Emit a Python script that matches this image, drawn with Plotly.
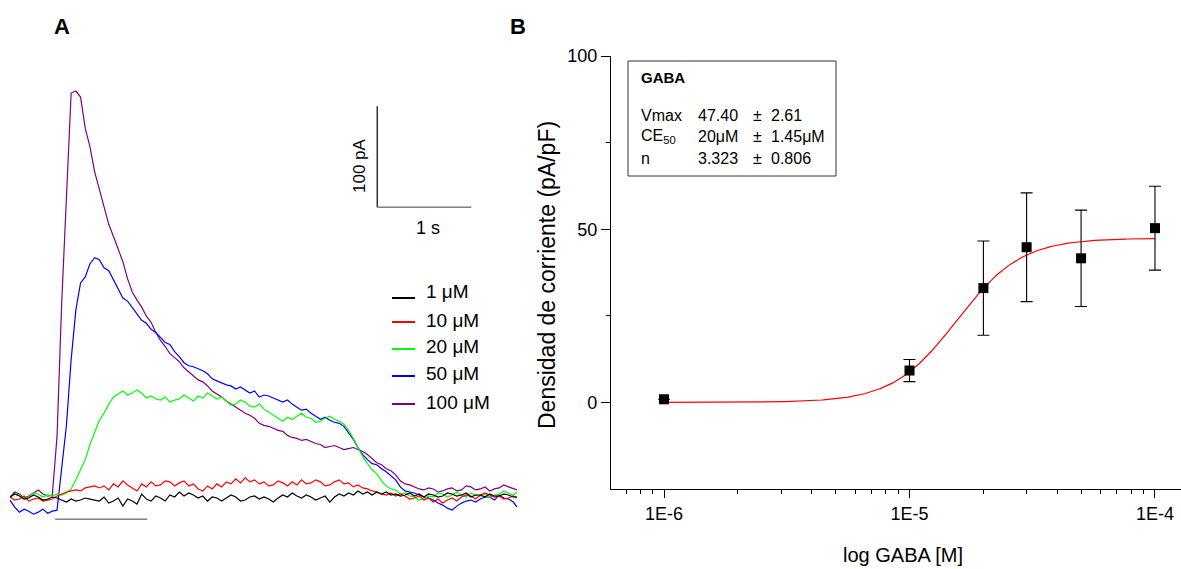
import numpy as np
import plotly.graph_objects as go

W, H = 1181, 569

# ---------------- Panel A data (time in s, current in pA) ----------------
time_s = [0.00, 0.05, 0.10, 0.15, 0.20, 0.25, 0.30, 0.35, 0.40, 0.45,
          0.50, 0.55, 0.60, 0.65, 0.70, 0.75, 0.80, 0.85, 0.90, 0.95,
          1.00, 1.05, 1.10, 1.15, 1.20, 1.25, 1.30, 1.35, 1.40, 1.45,
          1.50, 1.55, 1.60, 1.65, 1.70, 1.75, 1.80, 1.85, 1.90, 1.95,
          2.00, 2.05, 2.10, 2.15, 2.20, 2.25, 2.30, 2.35, 2.40, 2.45,
          2.50, 2.55, 2.60, 2.65, 2.70, 2.75, 2.80, 2.85, 2.90, 2.95,
          3.00, 3.05, 3.10, 3.15, 3.20, 3.25, 3.30, 3.35, 3.40, 3.45,
          3.50, 3.55, 3.60, 3.65, 3.70, 3.75, 3.80, 3.85, 3.90, 3.95,
          4.00, 4.05, 4.10, 4.15, 4.20, 4.25, 4.30, 4.35, 4.40, 4.45,
          4.50, 4.55, 4.60, 4.65, 4.70, 4.75, 4.80, 4.85, 4.90, 4.95,
          5.00, 5.05, 5.10, 5.15, 5.20, 5.25, 5.30, 5.35,
          5.39]

i_1uM = [-2, 1, -1, -4, -3, 0, -2, -5, -4, -2,
         -3, -5, -7, -4, -6, -5, -3, -4, -5, -6,
         -2, -8, -6, -3, -11, -4, -6, -9, 1, -4,
         -6, -1, -3, -6, 0, -2, 3, -1, 2, 0,
         -3, -1, -6, -2, -3, -6, -3, 0, -2, -6,
         -5, -2, -1, -4, -2, -4, -7, -3, 0, -2,
         2, -1, -3, 0, -2, -5, -3, -1, -7, -2,
         1, -1, 2, 0, 4, 1, 3, 0, 3, 1,
         3, 0, 1, -1, 0, 2, -1, 1, -2, 1,
         0, -2, -1, 2, 1, -1, 0, 2, -2, 0,
         0, -2, 1, -1, -1, 1, 0, -2,
         -2]

i_10uM = [-2, -5, -4, -1, -6, -4, -3, -6, -5, -4,
          -1, 1, 3, 4, 5, 4, 7, 8, 9, 7,
          9, 5, 11, 8, 14, 10, 7, 4, 11, 8,
          13, 9, 10, 14, 13, 9, 12, 14, 9, 11,
          6, 4, 9, 6, 11, 8, 13, 11, 16, 12,
          17, 13, 15, 11, 13, 9, 10, 14, 12, 9,
          13, 10, 15, 11, 12, 15, 13, 9, 10, 13,
          15, 11, 12, 8, 10, 7, 6, 4, 3, 1,
          0, 2, -1, 1, -1, -4, -3, -1, -5, -3,
          -7, -4, -8, -5, -3, -6, -2, 0, -1, -4,
          0, 2, 0, -2, -1, -4, -3, -1,
          -3]

i_20uM = [-2, 1, 0, -3, -2, 2, 1, -2, 0, -1,
          1, 0, 2, 6, 15, 25, 35, 50, 62, 74,
          81, 90, 97, 100, 103, 99, 101, 104, 101, 96,
          98, 95, 94, 97, 92, 94, 95, 99, 96, 93,
          98, 96, 101, 98, 95, 97, 93, 89, 90, 94,
          92, 88, 87, 90, 85, 82, 79, 76, 73, 77,
          75, 78, 81, 77, 76, 72, 73, 76, 78, 75,
          73, 70, 64, 56, 47, 38, 31, 25, 21, 14,
          9, 6, 5, 1, 2, -1, -2, -5, -4, -1,
          -2, 2, 1, -2, 0, 3, 0, -2, 2, 0,
          -1, 1, -2, 0, 1, 4, 2, 0,
          3]

i_50uM = [-5, -12, -17, -14, -16, -19, -17, -14, -18, -16,
          -15, 25, 69, 134, 183, 210, 216, 229, 235, 233,
          225, 222, 213, 205, 195, 192, 186, 180, 173, 170,
          164, 161, 156, 151, 149, 142, 137, 131, 128, 127,
          125, 123, 120, 115, 113, 111, 109, 108, 105, 107,
          104, 101, 103, 97, 99, 98, 96, 94, 92, 94,
          90, 87, 84, 85, 81, 78, 75, 77, 74, 72,
          71, 68, 62, 55, 47, 40, 35, 31, 30, 26,
          23, 19, 15, 8, 4, 3, 2, 0, -2, -3,
          -5, -8, -10, -13, -15, -11, -8, -6, -5, -7,
          -4, -2, -2, -5, 0, -3, -4, -7,
          -12]

i_100uM = [-2, 3, 1, -3, -1, 2, 5, 1, -1, 0,
           58, 191, 303, 398, 400, 394, 363, 345, 320, 302,
           284, 268, 256, 243, 231, 214, 201, 193, 186, 177,
           171, 161, 153, 147, 140, 136, 132, 126, 122, 118,
           114, 112, 108, 103, 100, 97, 93, 90, 87, 84,
           81, 79, 76, 71, 69, 68, 66, 64, 63, 59,
           57, 56, 54, 55, 53, 51, 50, 47, 48, 49,
           47, 45, 46, 47, 45, 43, 40, 36, 32, 30,
           26, 24, 20, 14, 11, 10, 8, 6, 5, 7,
           6, 3, 4, 6, 7, 4, 5, 9, 8, 5,
           6, 8, 4, 6, 7, 10, 8, 6,
           5]

trace_labels = ["1 \u03bcM", "10 \u03bcM", "20 \u03bcM", "50 \u03bcM", "100 \u03bcM"]
trace_colors = ["#000000", "#ff0000", "#00ff00", "#0000ff", "#800080"]
trace_values = [i_1uM, i_10uM, i_20uM, i_50uM, i_100uM]

# ---------------- Panel B data ----------------
gaba_M = [1e-6, 1e-5, 2e-5, 3e-5, 5e-5, 1e-4]
density = [0.9, 9.2, 33.0, 44.8, 41.6, 50.3]
density_err = [0.0, 3.2, 13.6, 15.7, 13.9, 12.1]

# fit parameters (box) and curve midpoint read from the drawn fit
VMAX = 47.40
HILL_N = 3.323
CURVE_EC50 = 1.56e-5

FONT = "Liberation Sans, Arial"

fig = go.Figure()

order = [4, 3, 2, 1, 0]
for k in order:
    fig.add_trace(go.Scatter(x=time_s, y=trace_values[k], mode="lines",
                             line=dict(color=trace_colors[k], width=1.2),
                             xaxis="x2", yaxis="y2", showlegend=False, hoverinfo="skip"))

# scale bars and stimulus bar (panel A data coords)
SB_T0, SB_I0 = 3.904, 285
fig.add_trace(go.Scatter(x=[SB_T0, SB_T0], y=[SB_I0, SB_I0 + 100], mode="lines",
                         line=dict(color="#000000", width=1.2), xaxis="x2", yaxis="y2",
                         showlegend=False, hoverinfo="skip"))
fig.add_trace(go.Scatter(x=[SB_T0, SB_T0 + 1.0], y=[SB_I0, SB_I0], mode="lines",
                         line=dict(color="#808080", width=1.5), xaxis="x2", yaxis="y2",
                         showlegend=False, hoverinfo="skip"))
fig.add_trace(go.Scatter(x=[0.48, 1.46], y=[-24, -24], mode="lines",
                         line=dict(color="#808080", width=1.5), xaxis="x2", yaxis="y2",
                         showlegend=False, hoverinfo="skip"))

# Panel B: fitted Hill curve
xc = np.logspace(-6, -4, 300)
yc = VMAX / (1 + (CURVE_EC50 / xc) ** HILL_N)
fig.add_trace(go.Scatter(x=xc, y=yc, mode="lines", line=dict(color="#ff0000", width=1.2),
                         showlegend=False, hoverinfo="skip"))
fig.add_trace(go.Scatter(x=gaba_M, y=density, mode="markers",
                         marker=dict(symbol="square", size=10, color="#000000"),
                         error_y=dict(type="data", array=density_err, visible=True,
                                      color="#000000", thickness=1.1, width=6),
                         showlegend=False))

def px(x):
    return x / W

def py(y):
    return 1 - y / H

def text(t, x, y, size, xanchor="center", angle=0):
    return dict(text=t, x=px(x), y=py(y), xref="paper", yref="paper", xanchor=xanchor,
                yanchor="middle", textangle=angle, showarrow=False,
                font=dict(size=size, family=FONT, color="#000"))

ann = []
ann.append(text("<b>A</b>", 62, 27, 22))
ann.append(text("<b>B</b>", 518, 27, 22))
ann.append(text("100 pA", 359, 166, 17, angle=-90))
ann.append(text("1 s", 428, 228, 18))

# manual legend for panel A
leg_line_y = [298, 322, 349, 376, 404]
leg_text_y = [291, 320, 346, 373, 402]
shapes = []
for lab, col, yl, yt in zip(trace_labels, trace_colors, leg_line_y, leg_text_y):
    shapes.append(dict(type="line", xref="paper", yref="paper", x0=px(392), x1=px(415),
                       y0=py(yl), y1=py(yl), line=dict(color=col, width=2)))
    ann.append(text(lab, 424, yt, 19, xanchor="left"))

# stats box
shapes.append(dict(type="rect", xref="paper", yref="paper", x0=px(628), x1=px(836),
                   y0=py(61), y1=py(176), line=dict(color="#333333", width=1)))
ann.append(text("<b>GABA</b>", 639, 77, 15, xanchor="left"))
rows = [("Vmax", "47.40", "\u00b1", "2.61", 116),
        ("CE<sub>50</sub>", "20\u03bcM", "\u00b1", "1.45\u03bcM", 136),
        ("n", "3.323", "\u00b1", "0.806", 158)]
for a, b, c, d, yy in rows:
    for txt, xx in ((a, 639), (b, 696), (c, 751), (d, 769)):
        ann.append(text(txt, xx, yy, 16, xanchor="left"))

# axis titles for panel B
ann.append(text("Densidad de corriente (pA/pF)", 547, 275, 23, angle=-90))
ann.append(text("log GABA [M]", 903, 555, 20))

minor_x = [7e-7, 8e-7, 9e-7] + [k * 1e-6 for k in range(2, 10)] + [k * 1e-5 for k in range(2, 10)]

fig.update_layout(
    width=W, height=H, autosize=False,
    margin=dict(l=0, r=0, t=0, b=0, pad=0),
    paper_bgcolor="white", plot_bgcolor="white",
    shapes=shapes, annotations=ann,
    xaxis=dict(type="log", domain=[611 / W, 1.0], range=[-6.216, -3.894], automargin=False,
               showline=True, linecolor="#000", linewidth=1.3, showgrid=False, zeroline=False,
               tickmode="array", tickvals=[1e-6, 1e-5, 1e-4], ticktext=["1E-6", "1E-5", "1E-4"],
               ticks="outside", ticklen=8, tickwidth=1.3, tickcolor="#000",
               minor=dict(tickmode="array", tickvals=minor_x, ticks="outside", ticklen=4,
                          tickwidth=1.2, tickcolor="#000", showgrid=False),
               tickfont=dict(size=18, family=FONT, color="#000"),
               anchor="y"),
    yaxis=dict(domain=[1 - 489 / H, 1 - 56 / H], range=[-25, 100], automargin=False,
               showline=True, linecolor="#000", linewidth=1.3, showgrid=False, zeroline=False,
               tickmode="array", tickvals=[0, 50, 100],
               ticks="outside", ticklen=9, tickwidth=1.3, tickcolor="#000",
               minor=dict(tickmode="array", tickvals=[25, 75], ticks="outside", ticklen=4,
                          tickwidth=1.2, tickcolor="#000", showgrid=False),
               tickfont=dict(size=18, family=FONT, color="#000"),
               anchor="x"),
    xaxis2=dict(domain=[10 / W, 517 / W], range=[0, 5.39], visible=False, anchor="y2",
                automargin=False),
    yaxis2=dict(domain=[1 - 530 / H, 1 - 70 / H], range=[-34.65, 420.8], visible=False,
                anchor="x2", automargin=False),
)

fig.write_html("out.html")
